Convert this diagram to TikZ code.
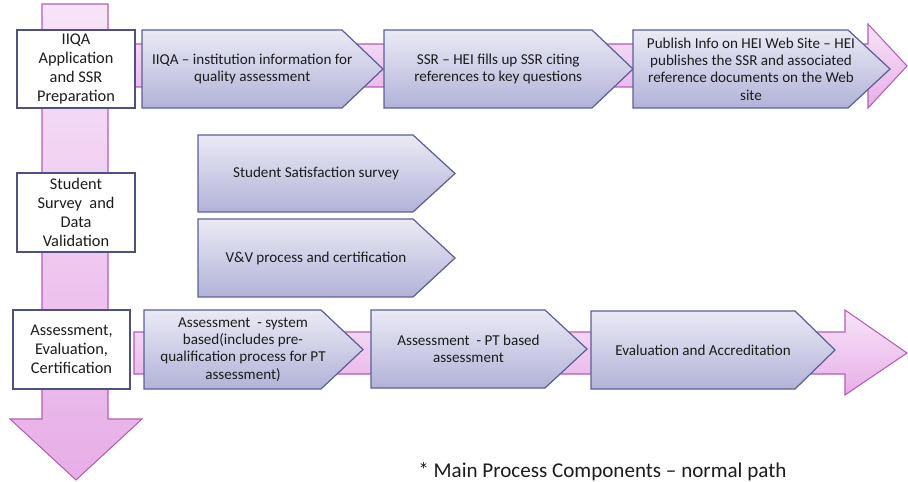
\documentclass[tikz,border=0pt]{standalone}
\usepackage{fontspec}
\setmainfont{Carlito}

\definecolor{stepline}{HTML}{5B5F97}
\definecolor{steptop}{HTML}{EAEAF5}
\definecolor{stepbot}{HTML}{B2B2D8}
\definecolor{flowline}{HTML}{B65CB6}
\definecolor{flowtop}{HTML}{F7E4F7}
\definecolor{flowbot}{HTML}{E7AEE7}
\definecolor{phaseline}{HTML}{4E507F}
\definecolor{inktext}{HTML}{1C1C1C}

\tikzset{
  flow/.style={draw=flowline, line width=0.6pt, top color=flowtop, bottom color=flowbot},
  phase/.style={draw=phaseline, line width=1.4pt, fill=white, inner sep=0pt, text=inktext,
    align=center, font=\fontsize{9.3}{10.8}\selectfont},
  stepshape/.style={draw=stepline, line width=0.7pt, top color=steptop, bottom color=stepbot},
  steptext/.style={inner sep=0pt, text=inktext, align=center, font=\fontsize{8.6}{9.8}\selectfont},
}

% pentagon step: name, left, corner, tip, top, bottom, text
\newcommand{\stepnode}[7]{%
  \pgfmathsetmacro{\stepmidx}{(#2+(#3+#4)/2)/2}%
  \pgfmathsetmacro{\stepmidy}{(#5+#6)/2}%
  \draw[stepshape] (#2,#5) -- (#3,#5) -- (#4,\stepmidy) -- (#3,#6) -- (#2,#6) -- cycle;
  \node[steptext] (#1) at (\stepmidx,\stepmidy) {#7};
}

\begin{document}
\begin{tikzpicture}[x=0.02cm, y=-0.02cm]
	\useasboundingbox (0,0) rectangle (908,482);
	\clip (0,0) rectangle (908,482);

	% big process arrows
	\draw[flow] (42,4) -- (108,4) -- (108,419) -- (142,419) -- (76,480) -- (10,419) -- (42,419) -- cycle;
	\draw[flow] (133,44) -- (868,44) -- (868,24) -- (907,66) -- (868,108) -- (868,87) -- (133,87) -- cycle;
	\draw[flow] (134,332) -- (845,332) -- (845,310) -- (907,353) -- (845,395) -- (845,374) -- (134,374) -- cycle;

	% phases
	\node[phase, minimum width=2.36cm, minimum height=1.56cm] (prep) at (76,69)
		{IIQA\\Application\\and SSR\\Preparation};
	\node[phase, minimum width=2.36cm, minimum height=1.58cm] (valid) at (76,212.5)
		{Student\\Survey~~and\\Data\\Validation};
	\node[phase, minimum width=2.34cm, minimum height=1.58cm] (cert) at (71.5,349.5)
		{Assessment,\\Evaluation,\\Certification};

	% steps
	\stepnode{iiqa}{142}{342}{383}{30}{108}{IIQA – institution information for\\quality assessment}
	\stepnode{ssr}{384}{592}{633}{30}{108}{SSR – HEI fills up SSR citing\\references to key questions}
	\stepnode{publish}{633}{848}{890}{30}{108}{Publish Info on HEI Web Site – HEI\\publishes the SSR and associated\\reference documents on the Web\\site}
	\stepnode{survey}{198}{413}{455}{135}{212}{Student Satisfaction survey}
	\stepnode{vv}{198}{413}{455}{219}{297}{V\&V process and certification}
	\stepnode{sysassess}{144}{321}{363}{310}{389}{Assessment~~- system\\based(includes pre-\\qualification process for PT\\assessment)}
	\stepnode{ptassess}{371}{545}{587}{310}{388}{Assessment~~- PT based\\assessment}
	\stepnode{accredit}{591}{795}{835}{311}{389}{Evaluation and Accreditation}

	\node[anchor=base west, inner sep=0pt, text=inktext, font=\fontsize{12}{14}\selectfont] (note) at (418,477)
		{* Main Process Components – normal path};
\end{tikzpicture}
\end{document}
